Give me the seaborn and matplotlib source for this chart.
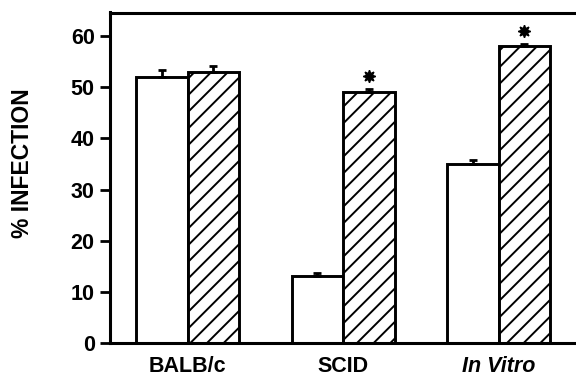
import matplotlib
matplotlib.use("Agg")
import matplotlib.pyplot as plt
import seaborn as sns
import pandas as pd

# values
groups = ["BALB/c", "SCID", "In Vitro"]
treatments = ["control", "treated"]
control_vals = [52, 13, 35]
treated_vals = [53, 49, 58]
control_err = [1.3, 0.6, 0.8]
treated_err = [1.2, 0.7, 0.5]
significant = [False, True, True]
y_ticks = [0, 10, 20, 30, 40, 50, 60]

df = pd.DataFrame({
    "group": groups * 2,
    "treatment": [treatments[0]] * 3 + [treatments[1]] * 3,
    "value": control_vals + treated_vals,
})

sns.set_style("ticks")
plt.rcParams["font.family"] = ["Liberation Sans", "DejaVu Sans"]
plt.rcParams["font.weight"] = "bold"
plt.rcParams["hatch.linewidth"] = 1.4
for key in ["text.color", "axes.labelcolor", "xtick.color", "ytick.color",
            "axes.edgecolor"]:
    plt.rcParams[key] = "black"

fig = plt.figure(figsize=(5.76, 3.79), dpi=100)
ax = fig.add_axes([110 / 576, 1 - 343 / 379, 468 / 576, 330.5 / 379])

sns.barplot(data=df, x="group", y="value", hue="treatment",
            palette=["white", "white"], edgecolor="black", linewidth=2.1,
            width=0.662, errorbar=None, legend=False, ax=ax, zorder=2)

for patch in ax.containers[1]:
    patch.set_hatch("//")

errs = [control_err, treated_err]
for cont, err in zip(ax.containers, errs):
    xs = [p.get_x() + p.get_width() / 2 for p in cont]
    ys = [p.get_height() for p in cont]
    ax.errorbar(xs, ys, yerr=[[0] * len(err), err], fmt="none",
                ecolor="black", elinewidth=2, capsize=3, capthick=2,
                zorder=3)

for p, e, sig in zip(ax.containers[1], treated_err, significant):
    if sig:
        ax.plot(p.get_x() + p.get_width() / 2, p.get_height() + e + 2.4,
                marker=(8, 1, 0), markersize=9, color="black", zorder=4)

ax.set_xlim(-0.5, 2.51)
ax.set_ylim(0, 64.6)
ax.set_yticks(y_ticks)
ax.set_xlabel("")
ax.set_ylabel("% INFECTION", fontsize=16.5, fontweight="bold")
ax.yaxis.set_label_coords(-0.163, 0.545)

ax.tick_params(axis="y", length=7, width=2, pad=4, labelsize=15.5)
ax.tick_params(axis="x", length=0, pad=9, labelsize=15.5)
for lbl in ax.get_xticklabels() + ax.get_yticklabels():
    lbl.set_fontweight("bold")
ax.get_xticklabels()[2].set_fontstyle("italic")

for side in ["left", "top", "bottom", "right"]:
    ax.spines[side].set_linewidth(2.2)
    ax.spines[side].set_visible(True)

fig.savefig("out.png", dpi=100)
